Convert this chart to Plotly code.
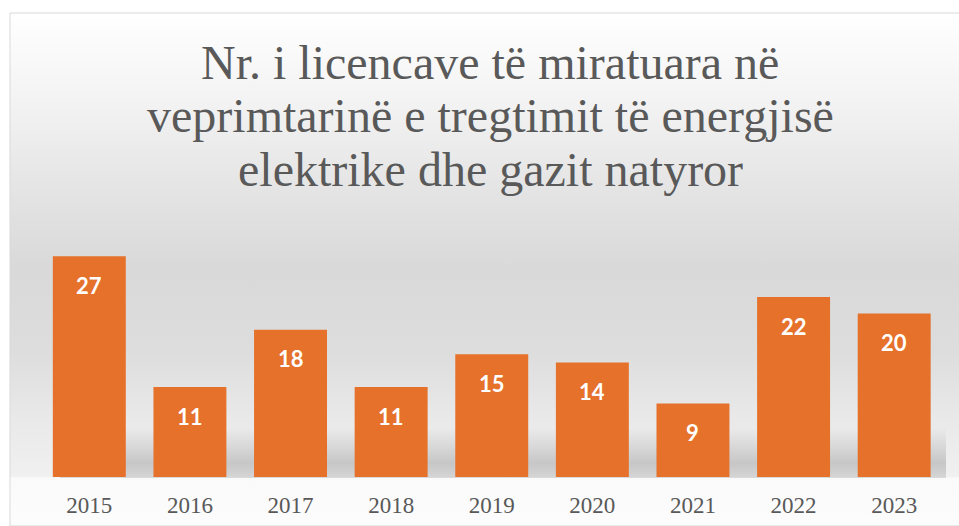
import plotly.graph_objects as go

# Licences approved per year
years = ["2015", "2016", "2017", "2018", "2019", "2020", "2021", "2022", "2023"]
licences = [27, 11, 18, 11, 15, 14, 9, 22, 20]

title_lines = [
    "Nr. i licencave të miratuara në",
    "veprimtarinë e tregtimit të energjisë",
    "elektrike dhe gazit natyror",
]

W, H = 959, 526
BAR_COLOR = "#E5712A"
TEXT_GREY = "#595959"

fig = go.Figure()

# Chart-area backdrop on a hidden pixel-sized axis pair (x, y): vertical grey gradient + border
fig.add_trace(go.Scatter(
    x=[10, 975, 975, 10, 10], y=[0, 0, H - 13, H - 13, 0],
    xaxis="x", yaxis="y",
    mode="lines", line=dict(color="#d9d9d9", width=1),
    fill="toself",
    fillgradient=dict(
        type="vertical", start=0, stop=H - 13,
        colorscale=[
            [0.0, "#fcfcfc"],
            [0.093, "#fafafa"],
            [0.097, "#f0f0f0"],
            [0.21, "#e9e9e9"],
            [0.34, "#dddddd"],
            [0.50, "#d9d9d9"],
            [0.64, "#e3e3e3"],
            [0.83, "#f3f3f3"],
            [1.0, "#ffffff"],
        ],
    ),
    hoverinfo="skip", showlegend=False,
))

# Soft shadow band along the bar bases
fig.add_trace(go.Scatter(
    x=[60, 946, 946, 60, 60], y=[H - 478, H - 478, H - 428, H - 428, H - 478],
    xaxis="x", yaxis="y",
    mode="none", fill="toself",
    fillgradient=dict(
        type="vertical", start=H - 478, stop=H - 428,
        colorscale=[
            [0.0, "rgba(150,150,150,0.30)"],
            [0.30, "rgba(150,150,150,0.45)"],
            [0.65, "rgba(150,150,150,0.22)"],
            [1.0, "rgba(150,150,150,0.0)"],
        ],
    ),
    hoverinfo="skip", showlegend=False,
))

# The bars
fig.add_trace(go.Bar(
    x=years, y=licences,
    xaxis="x2", yaxis="y2",
    marker=dict(color=BAR_COLOR, line=dict(width=0)),
    hoverinfo="x+y", showlegend=False,
))

# Value labels inside the top of each bar (x given as category index)
annotations = []
for i, v in enumerate(licences):
    annotations.append(dict(
        x=i, y=v, xref="x2", yref="y2",
        text=f"<b>{v}</b>", showarrow=False,
        yanchor="middle", yshift=-29,
        font=dict(family="Lato", size=22, color="white"),
    ))

# Title, one annotation per line for tight line spacing
for i, line in enumerate(title_lines):
    annotations.append(dict(
        x=490 / W, y=1 - (62 + 53.5 * i) / H, xref="paper", yref="paper",
        text=line, showarrow=False, xanchor="center", yanchor="middle",
        font=dict(family="Liberation Serif", size=48, color=TEXT_GREY),
    ))

y_bottom = (H - 477) / H
y_top = (H - 477 + 30 * 8.18) / H

fig.update_layout(
    width=W, height=H,
    margin=dict(l=0, r=0, t=0, b=0, pad=0),
    paper_bgcolor="white",
    plot_bgcolor="rgba(0,0,0,0)",
    xaxis=dict(domain=[0, 1], range=[0, W], visible=False, fixedrange=True,
               automargin=False),
    yaxis=dict(domain=[0, 1], range=[0, H], visible=False, fixedrange=True,
               automargin=False),
    xaxis2=dict(
        domain=[39 / W, 944.5 / W], anchor="y2", type="category",
        categoryorder="array", categoryarray=years,
        range=[-0.5, len(years) - 0.5], automargin=False,
        showgrid=False, showline=False, zeroline=False, ticks="",
        ticklabelstandoff=12,
        tickfont=dict(family="Liberation Serif", size=23, color=TEXT_GREY),
    ),
    yaxis2=dict(
        domain=[y_bottom, y_top], anchor="x2", range=[0, 30],
        visible=False, showgrid=False, zeroline=False, automargin=False,
    ),
    bargap=0.275,
    annotations=annotations,
    showlegend=False,
)

fig.write_html("out.html")
